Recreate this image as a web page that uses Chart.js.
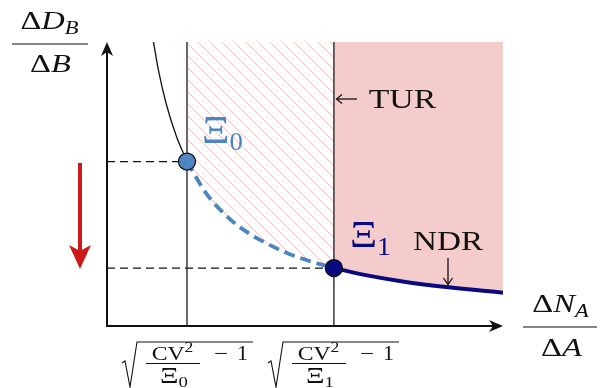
<!DOCTYPE html>
<html>
<head>
<meta charset="utf-8">
<script src="https://cdn.jsdelivr.net/npm/chart.js@4/dist/chart.umd.min.js"></script>
<style>
  html, body { margin: 0; padding: 0; background: #fff; }
  canvas { display: block; }
</style>
</head>
<body>
<canvas id="chart" width="607" height="388"></canvas>
<script>
// Values, axes run 0..10 both ways
const xiX = [2.02, 5.73];
const xiY = [5.79, 2.04];

// thin black branch above Xi0
const topX = [1.12, 1.3, 1.5, 1.75, 2.02];
const topY = [10.45, 9.0, 7.8, 6.69, 5.79];

// dashed branch Xi0 -> Xi1
const dashX = [2.02, 2.5, 3, 3.5, 4, 4.5, 5, 5.73];
const dashY = [5.79, 4.68, 3.9, 3.34, 2.93, 2.6, 2.34, 2.04];

// NDR branch after Xi1
const ndrX = [5.73, 6.5, 7.5, 8.5, 10];
const ndrY = [2.04, 1.8, 1.56, 1.38, 1.17];

const xMax = 10;
const yMax = 10;

const SERIF = '"Liberation Serif", "DejaVu Serif", serif';
const steel = '#4a86c4';
const navy = '#0a0a80';
const pink = '#f4cccc';

const pts = (xs, ys) => xs.map((x, i) => ({ x, y: ys[i] }));

// diagonal hatch for the region between Xi0 and Xi1
const hatch = (() => {
  const c = document.createElement('canvas');
  c.width = 12;
  c.height = 12;
  const g = c.getContext('2d');
  g.strokeStyle = 'rgba(236,160,160,0.65)';
  g.lineWidth = 1;
  g.beginPath();
  g.moveTo(-1, -1); g.lineTo(13, 13);
  g.moveTo(-1, 11); g.lineTo(1, 13);
  g.moveTo(11, -1); g.lineTo(13, 1);
  g.stroke();
  return g.createPattern(c, 'repeat');
})();

// draw a run of text pieces [text, font, dy] into a box from x1 to x2,
// stretched a little at most and centred in the box
const runs = (ctx, parts, x1, x2, y, color) => {
  ctx.save();
  ctx.fillStyle = color || '#111';
  ctx.textBaseline = 'alphabetic';
  const widths = parts.map(([t, f]) => {
    ctx.font = f;
    return ctx.measureText(t).width;
  });
  const m = widths.reduce((a, b) => a + b, 0);
  const w = x2 - x1;
  const k = Math.max(0.8, Math.min(w / m, 1.25));
  ctx.translate(x1 + (w - m * k) / 2, y);
  ctx.scale(k, 1);
  let cx = 0;
  parts.forEach(([t, f, dy], i) => {
    ctx.font = f;
    ctx.fillText(t, cx, dy || 0);
    cx += widths[i];
  });
  ctx.restore();
};

const line = (ctx, a, b, w, color) => {
  ctx.beginPath();
  ctx.moveTo(a[0], a[1]);
  ctx.lineTo(b[0], b[1]);
  ctx.lineWidth = w;
  ctx.strokeStyle = color;
  ctx.stroke();
};

const poly = (ctx, p, color) => {
  ctx.beginPath();
  ctx.moveTo(p[0][0], p[0][1]);
  p.slice(1).forEach((q) => ctx.lineTo(q[0], q[1]));
  ctx.closePath();
  ctx.fillStyle = color;
  ctx.fill();
};

const chevron = (ctx, p, color) => {
  ctx.beginPath();
  ctx.moveTo(p[0][0], p[0][1]);
  ctx.lineTo(p[1][0], p[1][1]);
  ctx.lineTo(p[2][0], p[2][1]);
  ctx.lineWidth = 1.3;
  ctx.strokeStyle = color;
  ctx.stroke();
};

// sqrt(CV^2 / Xi_k - 1) under the x axis
const sqrtLabel = (ctx, dx, sub) => {
  ctx.beginPath();
  ctx.moveTo(122 + dx, 363);
  ctx.lineTo(125 + dx, 361);
  ctx.lineTo(130 + dx, 387);
  ctx.lineTo(137 + dx, 342);
  ctx.lineTo(253 + dx, 342);
  ctx.lineWidth = 1.1;
  ctx.strokeStyle = '#111';
  ctx.stroke();
  runs(ctx, [['CV', `19px ${SERIF}`], ['2', `14px ${SERIF}`, -8]], 146 + dx, 199 + dx, 360);
  line(ctx, [146 + dx, 363.5], [200 + dx, 363.5], 1, '#111');
  runs(ctx, [['Ξ', `23px ${SERIF}`], [sub, `15px ${SERIF}`, 4]], 157 + dx, 191 + dx, 383);
  runs(ctx, [['−', `20px ${SERIF}`]], 213 + dx, 229 + dx, 360);
  runs(ctx, [['1', `20px ${SERIF}`]], 237 + dx, 248 + dx, 360);
};

const decor = {
  id: 'decor',
  afterDatasetsDraw(chart) {
    const { ctx } = chart;
    const x = chart.scales.x;
    const y = chart.scales.y;
    const x0 = x.getPixelForValue(0);
    const y0 = y.getPixelForValue(0);
    const xEnd = x.getPixelForValue(xMax);
    const yEnd = y.getPixelForValue(yMax);
    ctx.save();

    // axes with stealth heads
    line(ctx, [x0, y0 + 1], [x0, yEnd + 8], 2, '#111');
    line(ctx, [x0 - 1, y0], [xEnd - 8, y0], 2, '#111');
    poly(ctx, [[x0, yEnd], [x0 - 6, yEnd + 14], [x0, yEnd + 10], [x0 + 6, yEnd + 14]], '#111');
    poly(ctx, [[xEnd, y0], [xEnd - 14, y0 - 6], [xEnd - 10, y0], [xEnd - 14, y0 + 6]], '#111');

    // red arrow on the left
    line(ctx, [80, 163], [80, 252], 4, '#cc1a1a');
    poly(ctx, [[80, 269], [69, 245], [80, 251], [91, 245]], '#cc1a1a');

    // TUR pointer
    line(ctx, [357, 99], [337, 99], 1.3, '#111');
    chevron(ctx, [[342, 94.5], [336.5, 99], [342, 103.5]], '#111');
    runs(ctx, [['TUR', `27px ${SERIF}`]], 368, 437, 108);

    // NDR pointer
    line(ctx, [448, 258], [448, 284], 1.3, '#111');
    chevron(ctx, [[443.5, 278], [448, 284.5], [452.5, 278]], '#111');
    runs(ctx, [['NDR', `27px ${SERIF}`]], 413, 483, 250);

    // Xi labels
    runs(ctx, [['Ξ', `40px ${SERIF}`], ['0', `25px ${SERIF}`, 7]], 202, 243, 143, steel);
    runs(ctx, [['Ξ', `38px ${SERIF}`], ['1', `25px ${SERIF}`, 8]], 350, 391, 247, navy);

    // y axis label  ΔD_B / ΔB
    runs(ctx, [['Δ', `26px ${SERIF}`], ['D', `italic 26px ${SERIF}`], ['B', `italic 18px ${SERIF}`, 5]], 13, 86, 29);
    line(ctx, [12, 44], [88, 44], 1.1, '#111');
    runs(ctx, [['Δ', `26px ${SERIF}`], ['B', `italic 26px ${SERIF}`]], 27, 74, 72);

    // x axis label  ΔN_A / ΔA
    runs(ctx, [['Δ', `26px ${SERIF}`], ['N', `italic 26px ${SERIF}`], ['A', `italic 18px ${SERIF}`, 5]], 525, 596, 312);
    line(ctx, [523, 327], [597, 327], 1.1, '#111');
    runs(ctx, [['Δ', `26px ${SERIF}`], ['A', `italic 26px ${SERIF}`]], 537, 586, 356);

    // tick labels
    sqrtLabel(ctx, 0, '0');
    sqrtLabel(ctx, 146, '1');

    ctx.restore();
  },
};

const curve = (data, color, width, extra) => ({
  data,
  showLine: true,
  borderColor: color,
  borderWidth: width,
  pointRadius: 0,
  cubicInterpolationMode: 'monotone',
  fill: false,
  ...extra,
});

// eslint-disable-next-line no-undef
new Chart(document.getElementById('chart'), {
  type: 'scatter',
  data: {
    datasets: [
      {
        data: pts([xiX[0]], [xiY[0]]),
        pointRadius: 8.5,
        pointBackgroundColor: '#4f86c6',
        pointBorderColor: '#111',
        pointBorderWidth: 1.3,
      },
      {
        data: pts([xiX[1]], [xiY[1]]),
        pointRadius: 8.5,
        pointBackgroundColor: navy,
        pointBorderColor: '#111',
        pointBorderWidth: 1.3,
      },
      curve(pts(topX, topY), '#111', 1.3),
      curve(pts(dashX, dashY), steel, 3.8, {
        borderDash: [11, 6],
        fill: 'end',
        backgroundColor: hatch,
      }),
      curve(pts(ndrX, ndrY), navy, 4, { fill: 'end', backgroundColor: pink }),
      curve(pts([xiX[0], xiX[0]], [0, yMax]), '#2a2a2a', 1.4),
      curve(pts([xiX[1], xiX[1]], [0, yMax]), '#2a2a2a', 1.4),
      curve(pts([0, xiX[0]], [xiY[0], xiY[0]]), '#111', 1.2, { borderDash: [8, 5] }),
      curve(pts([0, xiX[1]], [xiY[1], xiY[1]]), '#111', 1.2, { borderDash: [8, 5] }),
    ],
  },
  options: {
    responsive: false,
    animation: false,
    devicePixelRatio: 1,
    layout: { padding: { left: 107, right: 104, top: 42, bottom: 62 } },
    scales: {
      x: { type: 'linear', min: 0, max: xMax, display: false },
      y: { type: 'linear', min: 0, max: yMax, display: false },
    },
    plugins: {
      legend: { display: false },
      tooltip: { enabled: false },
      filler: { drawTime: 'beforeDatasetsDraw' },
    },
  },
  plugins: [decor],
});
</script>
</body>
</html>
